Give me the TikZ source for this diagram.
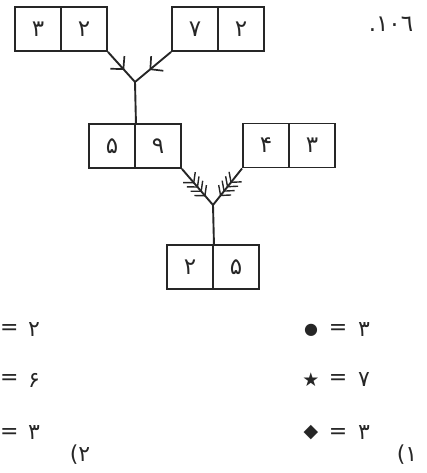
\documentclass[tikz,border=0pt]{standalone}
\usepackage{fontspec}
\newfontfamily\fa{DejaVu Sans}
\newfontfamily\djs{DejaVu Sans}
\usetikzlibrary{arrows.meta,decorations.markings}
\definecolor{ink}{HTML}{262626}
\begin{document}
\begin{tikzpicture}[x=1pt,y=-1pt,
  cell/.style={draw=ink,line width=1.9pt,minimum width=46pt,minimum height=44pt,inner sep=0pt,
    font=\fa\fontsize{23}{23}\selectfont,text=ink},
  link/.style={draw=ink,line width=1.9pt},
  onechev/.style={postaction={decorate},decoration={markings,
    mark=at position 0.6 with {\arrow{Straight Barb[length=9pt,width=19pt,line width=1.7pt]}}}},
  feathers/.style={postaction={decorate},decoration={markings,
    mark=between positions 0.4 and 0.76 step 0.12 with {\arrow{Straight Barb[length=7pt,width=16pt,line width=1.4pt]}}}},
  lgd/.style={font=\fa\fontsize{22}{22}\selectfont,text=ink,inner sep=0pt},
  sym/.style={font=\djs\fontsize{16}{16}\selectfont,text=ink,inner sep=0pt}]
\useasboundingbox (0,0) rectangle (427,473);
% boxes
\node[cell] (a1) at (38,29) {۳};
\node[cell] (a2) at (84,29) {۲};
\node[cell] (b1) at (195,29) {۷};
\node[cell] (b2) at (241,29) {۲};
\node[cell] (c1) at (112,146) {۵};
\node[cell] (c2) at (158,146) {۹};
\node[cell] (d1) at (266,145.5) {۴};
\node[cell] (d2) at (312,145.5) {۳};
\node[cell] (e1) at (190,267) {۲};
\node[cell] (e2) at (236,267) {۵};
% junctions
\coordinate (j1) at (135,82);
\coordinate (j2) at (213,205);
\draw[link,onechev] (a2.south east) -- (j1);
\draw[link,onechev] (b1.south west) -- (j1);
\draw[link] (j1) -- (c1.north east);
\draw[link,feathers] (c2.south east) -- (j2);
\draw[link,feathers] (d1.south west) -- (j2);
\draw[link] (j2) -- (e1.north east);
% heading
\node[lgd,font=\fa\fontsize{23}{23}\selectfont] (num) at (391,24) {.۱۰٦};
% left legend
\node[lgd,anchor=west] (le1) at (0,330) {=};
\node[lgd] (ld1) at (34,330) {۲};
\node[lgd,anchor=west] (le2) at (0,380) {=};
\node[lgd] (ld2) at (34,380) {۶};
\node[lgd,anchor=west] (le3) at (0,433) {=};
\node[lgd] (ld3) at (34,433) {۳};
\node[lgd] (lab2) at (80,455) {(۲};
% right legend
\node[sym] (rs1) at (311,330) {●};
\node[lgd] (re1) at (338,330) {=};
\node[lgd] (rd1) at (364,330) {۳};
\node[sym,font=\djs\fontsize{19}{19}\selectfont] (rs2) at (311,380) {★};
\node[lgd] (re2) at (338,380) {=};
\node[lgd] (rd2) at (364,380) {۷};
\node[sym,font=\djs\fontsize{19}{19}\selectfont] (rs3) at (311,433) {◆};
\node[lgd] (re3) at (338,433) {=};
\node[lgd] (rd3) at (364,433) {۳};
\node[lgd] (lab1) at (407,455) {(۱};
\end{tikzpicture}
\end{document}
